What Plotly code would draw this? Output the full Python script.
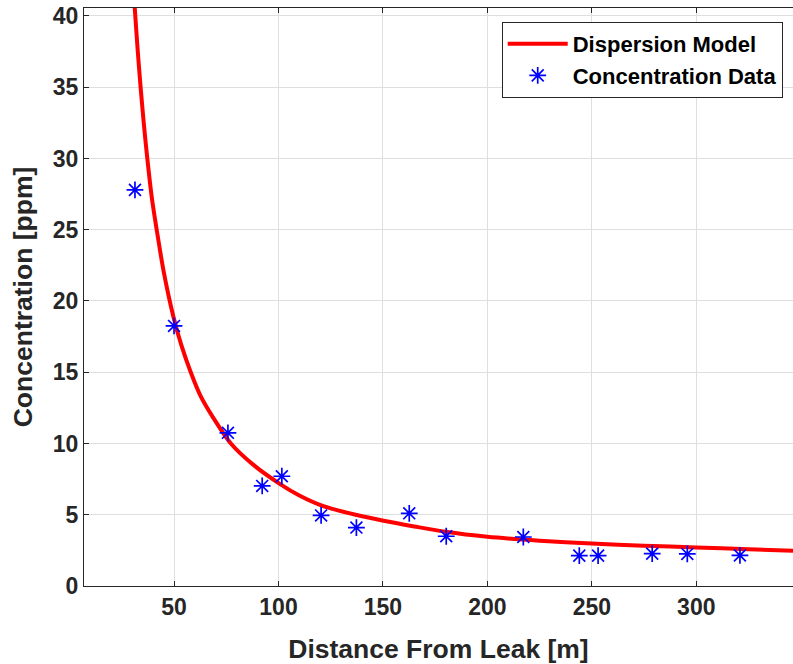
import plotly.graph_objects as go

# Measured concentrations downwind of the leak
distance_m = [31.3, 50.0, 75.8, 92.2, 101.6, 120.4, 137.3, 162.6, 180.3,
              217.2, 244.0, 253.0, 278.9, 295.7, 320.9]
concentration_ppm = [27.8, 18.25, 10.75, 7.02, 7.7, 4.95, 4.1, 5.1, 3.49,
                     3.44, 2.13, 2.13, 2.27, 2.25, 2.15]

# Dispersion model curve sampled along the distance axis
model_distance_m = [30.6, 31.2, 32.5, 34.0, 35.5, 37.2, 39.5, 41.7, 45.0,
                    49.7, 53.5, 58.0, 62.5, 68.8, 77.2, 88.0, 100.8, 110.0,
                    121.5, 137.5, 150.3, 165.0, 180.0, 200.0, 225.0, 250.0,
                    275.0, 300.0, 325.0, 346.3]
model_ppm = [41.9, 40.56, 37.8, 35.0, 32.5, 30.0, 27.1, 25.0, 22.1,
             18.9, 16.9, 15.0, 13.4, 11.8, 10.0, 8.5, 7.15, 6.35,
             5.6, 4.98, 4.58, 4.18, 3.80, 3.45, 3.18, 2.98,
             2.83, 2.70, 2.58, 2.48]

x_ticks = [50, 100, 150, 200, 250, 300]
y_ticks = [0, 5, 10, 15, 20, 25, 30, 35, 40]

ink = "#262626"
grid = "#dfdfdf"
font_family = "Liberation Sans, Arial, sans-serif"

fig = go.Figure()
fig.add_trace(go.Scatter(
    x=model_distance_m, y=model_ppm, mode="lines", name="<b>Dispersion Model</b>",
    line=dict(color="rgb(255,0,0)", width=4, shape="spline", smoothing=0.8),
))
fig.add_trace(go.Scatter(
    x=distance_m, y=concentration_ppm, mode="markers", name="<b>Concentration Data</b>",
    marker=dict(symbol="asterisk-open", size=14, color="rgb(0,0,255)",
                line=dict(color="rgb(0,0,255)", width=1.7)),
))

axis_common = dict(
    showline=True, linecolor=ink, linewidth=1,
    ticks="inside", ticklen=5, tickwidth=1, tickcolor=ink,
    showgrid=True, gridcolor=grid, gridwidth=1,
    zeroline=False,
    tickfont=dict(family=font_family, size=23, color=ink, weight="bold"),
    title_font=dict(family=font_family, size=26.5, color=ink, weight="bold"),
)

fig.update_xaxes(
    **axis_common,
    range=[6.9, 346.3], tickvals=x_ticks, ticktext=[str(v) for v in x_ticks],
    mirror="ticks",
    title_text="Distance From Leak [m]", title_standoff=20,
)
fig.update_yaxes(
    **axis_common,
    range=[0, 40.56], tickvals=y_ticks, ticktext=[str(v) for v in y_ticks],
    title_text="Concentration [ppm]", title_standoff=12,
)

fig.update_layout(
    width=793, height=664,
    margin=dict(l=84, r=0, t=8, b=78, autoexpand=False),
    paper_bgcolor="white", plot_bgcolor="white",
    showlegend=True,
    legend=dict(
        x=0.9855, y=0.9758, xanchor="right", yanchor="top",
        bgcolor="white", bordercolor=ink, borderwidth=1,
        font=dict(family=font_family, size=22, color="black"),
        itemwidth=60, tracegroupgap=0,
    ),
)

fig.write_html("out.html")
